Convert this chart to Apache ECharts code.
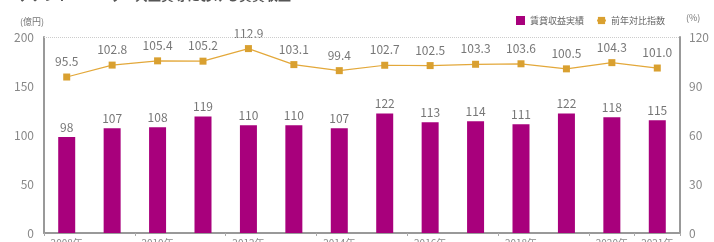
<!DOCTYPE html>
<html>
<head>
<meta charset="UTF-8">
<title></title>
<script src="https://cdn.jsdelivr.net/npm/echarts@6/dist/echarts.min.js"></script>
<style>
  html, body { margin: 0; padding: 0; background: #fff; }
</style>
</head>
<body>
<div id="chart" style="width: 714px; height: 242px;"></div>
<script type="text/javascript">
// データ
var periods = ['2008年', '2009年', '2010年', '2011年', '2012年', '2013年', '2014年', '2015年', '2016年', '2017年', '2018年', '2019年', '2020年', '2021年'];
var rentIncome = [98, 107, 108, 119, 110, 110, 107, 122, 113, 114, 111, 122, 118, 115];
var yoyIndex = [95.5, 102.8, 105.4, 105.2, 112.9, 103.1, 99.4, 102.7, 102.5, 103.3, 103.6, 100.5, 104.3, 101.0];
var leftTicks = [0, 50, 100, 150, 200];
var rightTicks = [0, 30, 60, 90, 120];
var shownLabels = [0, 2, 4, 6, 8, 10, 12, 13];

var font = '"Noto Sans CJK JP", "Noto Sans", sans-serif';
var myChart = echarts.init(document.getElementById('chart'));

var option = {
  backgroundColor: '#fff',
  animation: false,
  textStyle: { fontFamily: font },
  graphic: [
    { type: 'text', left: 18, top: -11, style: { text: 'テナント・ユーザー共益費等における賃貸収益', fill: '#555', font: 'bold 13px ' + font } },
    { type: 'text', left: 20, top: 17, style: { text: '(億円)', fill: '#777', font: '9px ' + font } },
    { type: 'text', left: 686, top: 13, style: { text: '(%)', fill: '#777', font: '9px ' + font } }
  ],
  legend: {
    right: 44,
    top: 11,
    itemWidth: 9,
    itemHeight: 9,
    itemGap: 12,
    textStyle: { fontSize: 9, color: '#666', fontFamily: font },
    data: [
      { name: '賃貸収益実績', icon: 'rect' },
      { name: '前年対比指数' }
    ]
  },
  grid: { left: 44, right: 34, top: 37, bottom: 9, outerBoundsMode: 'none', containLabel: false },
  xAxis: {
    type: 'category',
    data: periods,
    axisLine: { lineStyle: { color: '#999', width: 2 } },
    axisTick: { show: true, length: 3, lineStyle: { color: '#aaa' } },
    axisLabel: {
      margin: 5,
      fontSize: 10,
      color: '#888',
      interval: function (i) { return shownLabels.indexOf(i) >= 0; }
    }
  },
  yAxis: [
    {
      type: 'value', min: leftTicks[0], max: leftTicks[leftTicks.length - 1], interval: 50,
      axisLine: { show: true, lineStyle: { color: '#999', width: 2 } },
      axisTick: { show: false },
      axisLabel: { color: '#888', fontSize: 12, margin: 10 },
      splitLine: { show: false }
    },
    {
      type: 'value', min: rightTicks[0], max: rightTicks[rightTicks.length - 1], interval: 30,
      axisLine: { show: true, lineStyle: { color: '#999', width: 2 } },
      axisTick: { show: false },
      axisLabel: { color: '#888', fontSize: 12, margin: 9 },
      splitLine: { show: false }
    }
  ],
  series: [
    {
      name: '賃貸収益実績',
      type: 'bar',
      data: rentIncome,
      barWidth: 17,
      itemStyle: { color: '#a8007c' },
      label: { show: true, position: 'top', distance: 4, color: '#777', fontSize: 12 },
      markLine: {
        silent: true, symbol: 'none', label: { show: false },
        lineStyle: { color: '#ccc', type: 'dotted', width: 1 },
        data: [{ yAxis: 200 }]
      }
    },
    {
      name: '前年対比指数',
      type: 'line',
      yAxisIndex: 1,
      data: yoyIndex,
      symbol: 'rect',
      symbolSize: 7,
      lineStyle: { color: '#e3a83a', width: 1.2 },
      itemStyle: { color: '#d9a030' },
      label: {
        show: true, position: 'top', distance: 6, color: '#777', fontSize: 12,
        formatter: function (p) { return p.value.toFixed(1); }
      }
    }
  ]
};
myChart.setOption(option);
</script>
</body>
</html>
